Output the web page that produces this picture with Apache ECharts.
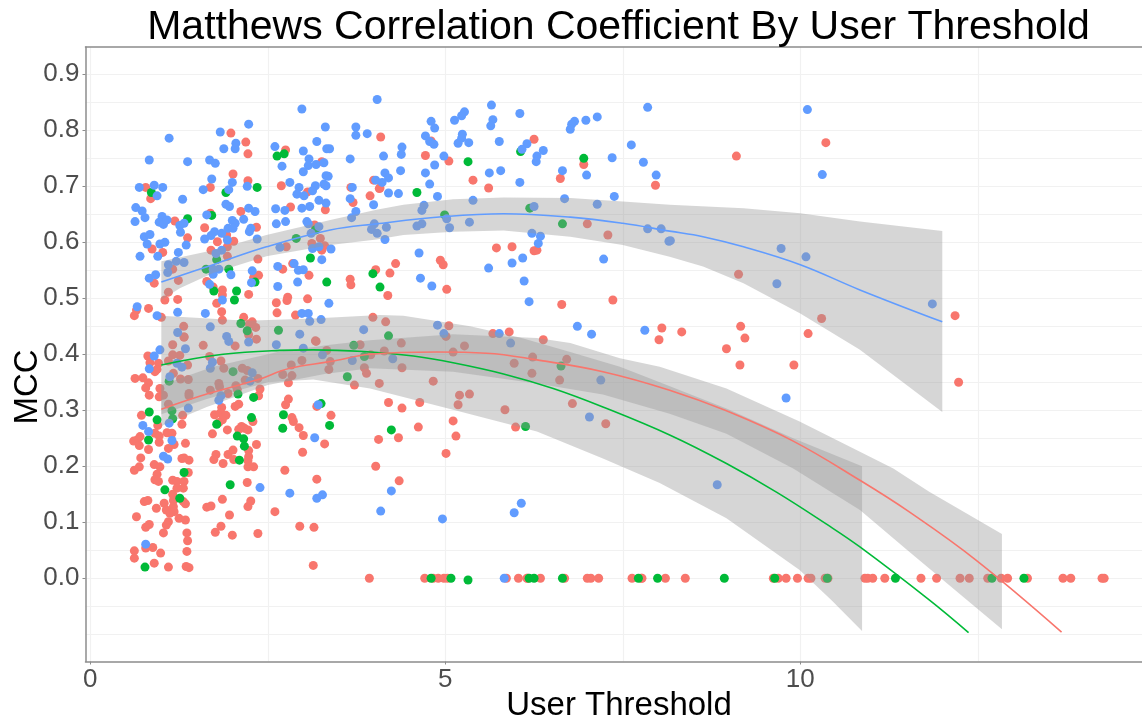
<!DOCTYPE html>
<html>
<head>
<meta charset="utf-8">
<style>
  html, body { margin: 0; padding: 0; background: #fff; }
  #chart { width: 1142px; height: 721px; }
</style>
<script src="https://cdn.jsdelivr.net/npm/echarts@6/dist/echarts.min.js"></script>
</head>
<body>
<div id="chart"></div>
<script>
const xTicks = [0, 5, 10];
const xMinor = [2.5, 7.5, 12.5];
const yTicks = [0, 0.1, 0.2, 0.3, 0.4, 0.5, 0.6, 0.7, 0.8, 0.9];
const yMinor = [-0.1, -0.05, 0.05, 0.15, 0.25, 0.35, 0.45, 0.55, 0.65, 0.75, 0.85];

const redPoints = [
  [1.98,.795],[2.19,.779],[2.22,.758],[2.75,.765],[3.26,.744],[2.01,.722],[2.22,.71],[.78,.698],[.85,.678],[1.69,.698],
  [2.69,.701],[3.06,.69],[3.99,.711],[3.67,.698],[3.94,.683],[4.07,.696],[3.7,.671],[2.82,.663],[3.31,.658],[2.12,.655],
  [1.69,.652],[1.19,.638],[1.61,.626],[2.34,.627],[1.37,.608],[.87,.588],[1.02,.582],[1.79,.601],[1.92,.613],[2.02,.602],
  [1.93,.592],[1.7,.586],[1.93,.575],[2.36,.57],[2.76,.592],[3.12,.598],[3.24,.607],[3.3,.594],[3.26,.586],[3.16,.631],
  [1.16,.552],[1.24,.532],[.9,.527],[2.85,.562],[2.71,.552],[3.08,.541],[2.3,.537],[2.37,.541],[1.64,.53],[1.73,.52],
  [1.86,.515],[1.86,.506],[1.1,.511],[1.05,.497],[1.23,.498],[1.78,.491],[2.23,.507],[2.62,.492],[2.78,.502],[2.77,.496],
  [3.06,.499],[3.66,.534],[3.67,.524],[4.02,.551],[.82,.482],[.65,.479],[.62,.469],[1.85,.476],[1.86,.461],[2.63,.474],
  [2.89,.47],[2.16,.466],[2.28,.458],[2.24,.454],[2.33,.448],[1.315,.45],[1.0,.466],[1.32,.431],[3.98,.466],[3.17,.424],
  [2.23,.435],[4.09,.788],[6.25,.784],[4.8,.781],[4.72,.755],[5.05,.745],[5.39,.711],[5.61,.697],[6.62,.714],[6.95,.739],
  [7.96,.702],[4.08,.697],[7.29,.613],[7.0,.633],[5.72,.59],[5.94,.592],[6.25,.585],[6.29,.586],[4.93,.568],[4.97,.56],
  [4.3,.562],[4.22,.545],[5.02,.516],[4.19,.505],[6.64,.489],[7.36,.497],[4.16,.458],[5.05,.451],[5.67,.437],[5.9,.44],
  [6.38,.426],[8.05,.447],[8.01,.426],[5.01,.432],[10.36,.778],[9.1,.754],[9.13,.543],[10.3,.464],[12.18,.469],[8.33,.44],
  [9.16,.45],[9.22,.429],[10.11,.437],[8.96,.41],[9.15,.381],[9.91,.381],[12.23,.35],[4.38,.42],[4.14,.406],[3.95,.399],
  [5.11,.404],[5.27,.415],[4.39,.376],[6.23,.395],[5.97,.384],[6.71,.391],[6.22,.366],[6.61,.354],[4.83,.352],[4.07,.348],
  [5.2,.327],[5.34,.329],[5.18,.31],[5.84,.301],[6.79,.312],[7.26,.276],[4.2,.314],[4.39,.304],[4.64,.314],[5.11,.281],
  [4.62,.27],[5.99,.27],[5.15,.254],[4.06,.248],[4.34,.251],[5.01,.223],[4.02,.2],[4.35,.174],
  [.81,.397],[1.16,.399],[1.26,.398],[1.1,.388],[.84,.385],[.96,.384],[.94,.373],[.91,.369],[1.17,.366],[1.16,.417],
  [1.32,.431],[1.37,.381],[1.27,.356],[1.38,.355],[1.59,.416],[1.68,.396],[1.84,.388],[1.88,.375],[2.04,.415],[2.34,.427],
  [2.14,.375],[2.21,.371],[2.36,.357],[2.18,.354],[3.18,.423],[3.33,.407],[3.38,.387],[3.36,.373],[2.98,.389],[2.83,.381],
  [2.71,.364],[2.84,.362],[2.79,.349],[3.8,.417],[3.86,.376],[3.89,.366],[3.72,.345],[.63,.357],[.74,.358],[.82,.349],
  [.78,.34],[.98,.339],[.83,.327],[.97,.324],[1.03,.327],[1.39,.33],[1.39,.326],[1.69,.336],[1.81,.348],[1.82,.342],
  [1.94,.33],[2.05,.344],[2.07,.337],[2.39,.338],[2.37,.326],[1.1,.311],[2.79,.32],[2.75,.31],[3.19,.307],[1.85,.305],
  [2.09,.311],[2.04,.307],[.72,.291],[1.3,.291],[1.75,.292],[1.83,.295],[1.91,.291],[1.86,.283],[1.81,.278],[2.29,.28],
  [2.84,.287],[2.86,.28],[3.39,.291],[.95,.273],[1.29,.275],[1.93,.265],[2.13,.271],[2.17,.268],[2.09,.266],[2.22,.265],
  [2.94,.269],[3.0,.255],[1.72,.258],[.91,.259],[.97,.254],[1.08,.26],[1.15,.259],[.7,.253],[.66,.247],[.61,.245],
  [.69,.237],[.97,.243],[1.18,.239],[1.1,.232],[1.34,.241],[2.34,.239],[3.3,.24],[.82,.23],[.71,.215],[1.29,.214],
  [1.32,.215],[1.39,.211],[1.77,.221],[1.74,.212],[1.94,.221],[2.01,.229],[2.02,.212],[2.23,.228],[2.23,.217],[2.22,.21],
  [2.99,.225],[1.87,.205],[.9,.203],[.98,.199],[.69,.199],[.62,.193],[2.22,.199],[2.3,.199],[2.74,.193],[1.38,.189],
  [.94,.186],[.91,.176],[.96,.173],[3.19,.177],[1.16,.175],[1.22,.173],[1.32,.173],[1.22,.161],[1.31,.161],[1.16,.15],
  [2.21,.171],[1.86,.141],[1.31,.137],[1.34,.133],[1.17,.139],[.76,.137],[.81,.139],[1.04,.134],[1.17,.128],[.93,.125],
  [1.07,.122],[1.12,.116],[1.18,.119],[2.22,.128],[2.26,.138],[1.64,.127],[1.7,.129],[2.6,.119],[1.96,.113],[.65,.11],
  [1.25,.107],[1.34,.104],[1.1,.101],[1.07,.095],[.83,.096],[.78,.091],[1.84,.093],[2.95,.093],[3.15,.091],[1.03,.081],
  [1.36,.081],[1.76,.082],[2.0,.077],[2.36,.08],[1.37,.067],[.78,.054],[.88,.055],[.62,.049],[.99,.045],[1.36,.048],
  [.62,.036],[.9,.027],[1.1,.02],[1.35,.021],[1.39,.019],[3.14,.023],
  [3.93,0],[4.71,0],[4.83,0],[4.9,0],[4.98,0],[5.03,0],[5.86,0],[6.03,0],[6.15,0],[6.16,0],[6.34,0],[6.68,0],[7.0,0],
  [7.05,0],[7.16,0],[7.63,0],[7.76,0],[7.77,0],[8.1,0],[8.38,0],[9.62,0],[9.69,0],[9.8,0],[9.96,0],[10.11,0],[10.15,0],
  [10.35,0],[10.39,0],[10.91,0],[10.95,0],[11.02,0],[11.19,0],[11.7,0],[11.92,0],[12.25,0],[12.38,0],[12.64,0],[12.83,0],
  [12.92,0],[13.2,0],[13.7,0],[13.81,0],[14.25,0],[14.28,0]
];

const greenPoints = [
  [2.63,.754],[2.73,.758],[.86,.689],[2.35,.698],[1.91,.689],[1.37,.642],[1.71,.648],[2.9,.607],[3.17,.622],[1.78,.569],
  [3.1,.572],[1.63,.552],[1.95,.552],[3.98,.544],[2.32,.529],[3.33,.529],[2.06,.513],[1.74,.513],[2.03,.497],[4.08,.52],
  [2.12,.455],[2.21,.442],[2.65,.443],[6.06,.762],[6.95,.75],[5.32,.744],[4.6,.689],[6.19,.661],[4.99,.649],[6.65,.633],
  [4.2,.433],[6.63,.379],[6.13,.271],[4.24,.265],[2.01,.369],[1.11,.352],[3.71,.416],[3.86,.396],[3.62,.36],[2.08,.329],
  [2.3,.323],[1.15,.299],[.83,.297],[.94,.283],[1.16,.285],[2.27,.287],[1.78,.275],[2.72,.292],[2.71,.268],[3.37,.273],
  [3.25,.312],[.82,.247],[2.07,.254],[2.16,.249],[2.17,.236],[2.1,.211],[1.32,.189],[1.97,.167],[1.05,.158],[1.26,.143],
  [.77,.02],
  [4.8,0],[5.08,0],[5.32,-.003],[6.18,0],[6.25,0],[6.65,0],[7.72,0],[7.99,0],[8.93,0],[9.64,0],[10.38,0],[11.34,0],
  [12.7,0],[13.15,0]
];

const bluePoints = [
  [4.04,.855],[2.98,.838],[2.23,.811],[3.31,.806],[3.74,.806],[3.9,.794],[3.74,.791],[1.83,.797],[1.11,.786],[3.19,.78],
  [2.05,.777],[2.04,.767],[1.88,.767],[2.6,.771],[3.0,.763],[3.33,.767],[3.37,.767],[.83,.747],[1.37,.744],[1.68,.747],
  [1.76,.741],[3.66,.749],[2.7,.736],[3.08,.749],[3.07,.737],[3.18,.739],[3.29,.742],[3.0,.726],[3.32,.719],[3.35,.718],
  [1.71,.713],[2.0,.707],[2.81,.707],[.69,.698],[.9,.702],[1.02,.698],[1.59,.694],[1.95,.694],[2.21,.7],[3.69,.698],
  [2.94,.698],[3.29,.704],[3.32,.701],[3.17,.701],[3.13,.692],[2.91,.686],[3.01,.683],[.94,.683],[1.3,.677],[3.66,.678],
  [3.99,.667],[3.22,.675],[3.32,.67],[2.98,.661],[3.09,.664],[2.61,.66],[2.74,.657],[.64,.662],[.73,.656],[.77,.644],
  [1.91,.668],[1.96,.664],[2.23,.661],[2.32,.655],[1.64,.649],[3.74,.655],[.63,.637],[1.01,.646],[.97,.636],[1.03,.632],
  [1.08,.64],[1.26,.63],[1.32,.634],[1.27,.618],[2.0,.639],[2.04,.634],[2.16,.641],[2.62,.633],[2.75,.637],[3.05,.637],
  [1.94,.625],[2.01,.625],[1.75,.619],[1.7,.612],[1.85,.616],[1.61,.606],[1.93,.604],[2.26,.625],[2.24,.619],[2.35,.606],
  [.76,.61],[.84,.614],[.8,.597],[.98,.597],[1.05,.6],[1.35,.595],[1.24,.582],[.7,.575],[.95,.575],[1.85,.586],
  [1.77,.58],[3.13,.589],[3.22,.592],[3.39,.588],[2.67,.591],[3.11,.616],[3.22,.628],[3.07,.633],[3.68,.644],[3.26,.569],
  [2.64,.557],[2.87,.562],[2.93,.55],[3.0,.551],[1.1,.56],[1.21,.566],[1.32,.564],[1.09,.546],[1.73,.552],[1.81,.552],
  [1.73,.543],[1.98,.542],[2.28,.549],[.83,.536],[.92,.542],[2.92,.529],[2.27,.528],[1.68,.525],[2.64,.521],[1.86,.497],
  [3.36,.491],[.66,.485],[1.23,.475],[1.62,.473],[.94,.469],[2.98,.473],[3.07,.473],[3.09,.459],[3.25,.462],[1.69,.449],
  [1.23,.439],[3.85,.444],[2.95,.436],[1.92,.432],
  [5.65,.845],[5.27,.833],[5.23,.826],[5.13,.818],[4.8,.816],[4.85,.804],[5.67,.819],[5.64,.808],[6.05,.83],[7.85,.841],
  [7.14,.824],[6.98,.818],[6.82,.816],[6.78,.811],[6.76,.802],[5.24,.793],[5.23,.786],[5.18,.777],[5.33,.778],[5.76,.78],
  [4.72,.79],[4.78,.78],[4.84,.775],[7.62,.774],[6.15,.776],[6.08,.766],[6.38,.764],[4.39,.77],[4.38,.757],[4.13,.754],
  [4.98,.754],[4.85,.738],[6.29,.754],[6.28,.744],[7.35,.751],[7.79,.743],[7.97,.72],[6.65,.728],[6.99,.72],[5.62,.724],
  [5.78,.728],[4.37,.728],[4.72,.724],[4.15,.724],[4.2,.715],[4.11,.707],[4.02,.711],[4.78,.704],[6.05,.707],[4.2,.688],
  [4.34,.687],[4.89,.682],[7.38,.682],[6.68,.678],[5.39,.675],[4.7,.666],[4.67,.657],[6.25,.664],[7.14,.668],[5.02,.642],
  [5.34,.636],[5.06,.626],[4.67,.633],[4.6,.629],[4,.633],[3.96,.623],[4.04,.616],[4.17,.627],[4.15,.605],[7.85,.624],
  [8.04,.624],[8.15,.602],[6.22,.616],[6.34,.611],[6.31,.598],[4.63,.581],[7.23,.57],[6.09,.572],[5.94,.563],[5.61,.554],
  [4.65,.536],[4.81,.522],[6.11,.531],[6.18,.494],[4.89,.452],[4.98,.437],[5.76,.437],[6.86,.45],[7.06,.436],[7.81,.443],
  [10.1,.837],[10.31,.721],[8.17,.603],[9.73,.589],[10.08,.574],[9.67,.526],[11.86,.49],[9.8,.322],[8.83,.167],
  [4.26,.392],[5.92,.42],[7.19,.354],[7.03,.288],[4.24,.156],[4.09,.12],[4.96,.106],[6.07,.134],[5.97,.117],[5.83,0],
  [.9,.397],[.98,.408],[.83,.374],[1.12,.36],[1.34,.41],[1.22,.384],[1.29,.377],[1.72,.386],[1.69,.375],[1.95,.423],
  [2.23,.422],[2.28,.367],[2.25,.352],[2.62,.417],[3.0,.411],[3.27,.399],[3.69,.389],[1.84,.326],[1.81,.318],[1.38,.304],
  [1.11,.277],[.74,.273],[.82,.262],[1.15,.246],[1.03,.218],[1.09,.213],[3.16,.251],[3.21,.31],[2.39,.162],[2.81,.152],
  [3.19,.143],[3.27,.149],[.78,.061]
];

// smooth lines
const blueLine = [[1,.529],[1.73,.56],[2.48,.592],[3.38,.622],[4.03,.633],[5,.646],[5.82,.651],[6.76,.645],[7.5,.634],[8.16,.62],[8.63,.61],[9.2,.592],[10,.56],[10.84,.515],[12,.458]];
const greenLine = [[1,.381],[1.87,.4],[2.67,.407],[3.14,.408],[3.85,.405],[4.55,.397],[5.11,.385],[5.82,.365],[6.52,.339],[7.22,.306],[8.16,.256],[8.96,.205],[9.67,.1535],[10.37,.0966],[10.84,.056],[11.82,-.039],[12.37,-.097]];
const redLine = [[1,.302],[1.64,.329],[2.34,.354],[2.81,.375],[3.38,.387],[3.94,.4],[4.88,.404],[5.58,.402],[6.29,.39],[7.22,.369],[8.16,.336],[8.96,.299],[9.9,.245],[10.84,.175],[11.53,.119],[12.47,.033],[13.68,-.096]];

// confidence ribbons
const blueUpper = [[1,.566],[1.73,.586],[2.48,.613],[3.38,.64],[4.03,.658],[4.41,.667],[5.11,.677],[5.82,.68],[6.76,.679],[7.5,.673],[8.16,.667],[9.2,.661],[10,.652],[10.84,.637],[12,.62]];
const blueLower = [[1,.497],[1.26,.518],[1.73,.545],[2.48,.575],[3.38,.595],[4.03,.605],[4.41,.613],[5.11,.619],[5.82,.621],[6.76,.61],[7.5,.595],[8.16,.574],[8.63,.557],[9.2,.527],[10,.473],[10.84,.408],[12,.297]];
const greenUpper = [[1,.469],[2.2,.46],[3.14,.464],[4.08,.47],[4.41,.469],[5.35,.45],[6.05,.43],[6.76,.404],[7.46,.378],[8.02,.35],[8.96,.303],[9.9,.25],[10.87,.2]];
const greenLower = [[1,.293],[1.64,.32],[2.5,.35],[3.14,.355],[3.94,.339],[5.11,.301],[6.29,.262],[7.22,.214],[8.02,.17],[8.96,.107],[9.99,.015],[10.44,-.039],[10.87,-.094]];
const redUpper = [[1,.345],[1.73,.378],[2.67,.405],[3.38,.417],[3.94,.425],[5.11,.436],[6.29,.429],[6.76,.42],[7.46,.393],[8.02,.378],[8.96,.339],[9.99,.28],[10.84,.226],[11.31,.196],[11.81,.155],[12.84,.079]];
const redLower = [[1,.272],[1.64,.306],[2.5,.345],[3.3,.365],[3.94,.375],[5.11,.369],[6.29,.348],[7.22,.328],[8.16,.294],[8.96,.258],[9.9,.196],[10.84,.122],[11.53,.048],[12.84,-.091]];

const RED = '#F8766D', GREEN = '#00BA38', BLUE = '#619CFF';
const GRID = '#f1f1f1', AXIS = '#8c8c8c', TICK_TEXT = '#4d4d4d';
const FONT = '"Liberation Sans", Arial, sans-serif';

const ribbon = (upper, lower) => ({
  type: 'custom',
  silent: true,
  z: 3,
  data: [0],
  renderItem: (params, api) => ({
    type: 'polygon',
    shape: { points: upper.concat(lower.slice().reverse()).map((p) => api.coord(p)) },
    style: { fill: 'rgba(153,153,153,0.4)' },
  }),
});

const scatter = (data, color) => ({
  type: 'scatter',
  data,
  symbolSize: 9,
  itemStyle: { color, opacity: 1 },
  silent: true,
  z: 2,
});

const smooth = (data, color) => ({
  type: 'line',
  data,
  smooth: 0.4,
  showSymbol: false,
  lineStyle: { color, width: 1.6 },
  silent: true,
  z: 4,
});

const chart = echarts.init(document.getElementById('chart'));

chart.setOption({
  animation: false,
  backgroundColor: '#fff',
  title: {
    text: 'Matthews Correlation Coefficient By User Threshold',
    left: 613.5,
    top: 2,
    textAlign: 'center',
    textStyle: { fontFamily: FONT, fontSize: 41, fontWeight: 'normal', color: '#000' },
  },
  grid: {
    left: 85.5,
    top: 47,
    right: 0,
    height: 614.5,
  },
  xAxis: [
    {
      type: 'value',
      min: -0.068,
      max: 14.813,
      axisLine: { show: true, onZero: false, lineStyle: { color: AXIS, width: 1.5 } },
      axisTick: { show: true, length: 3, customValues: xTicks, lineStyle: { color: AXIS } },
      axisLabel: {
        customValues: xTicks,
        fontFamily: FONT,
        fontSize: 26,
        color: TICK_TEXT,
        margin: 5,
      },
      splitLine: { show: true, lineStyle: { color: GRID, width: 1.2 } },
    },
    {
      type: 'value',
      position: 'top',
      min: -0.068,
      max: 14.813,
      axisLine: { show: true, onZero: false, lineStyle: { color: AXIS, width: 1.5 } },
      axisTick: { show: false, customValues: xMinor },
      axisLabel: { show: false, customValues: xMinor },
      splitLine: { show: true, lineStyle: { color: GRID, width: 1.2 } },
    },
  ],
  yAxis: [
    {
      type: 'value',
      min: -0.1486,
      max: 0.9488,
      axisLine: { show: true, onZero: false, lineStyle: { color: AXIS, width: 1.5 } },
      axisTick: { show: true, length: 3, customValues: yTicks, lineStyle: { color: AXIS } },
      axisLabel: {
        customValues: yTicks,
        formatter: (v) => v.toFixed(1),
        fontFamily: FONT,
        fontSize: 26,
        color: TICK_TEXT,
        margin: 6,
      },
      splitLine: { show: true, lineStyle: { color: GRID, width: 1.2 } },
    },
    {
      type: 'value',
      position: 'left',
      min: -0.1486,
      max: 0.9488,
      axisLine: { show: false },
      axisTick: { show: false, customValues: yMinor },
      axisLabel: { show: false, customValues: yMinor },
      splitLine: { show: true, lineStyle: { color: GRID, width: 1.2 } },
    },
  ],
  graphic: [
    {
      type: 'text',
      x: 619,
      y: 706,
      style: { text: 'User Threshold', font: '33px ' + FONT, fill: '#000', textAlign: 'center', textVerticalAlign: 'middle' },
    },
    {
      type: 'text',
      x: 28,
      y: 387,
      rotation: Math.PI / 2,
      style: { text: 'MCC', font: '33px ' + FONT, fill: '#000', textAlign: 'center', textVerticalAlign: 'middle' },
    },
  ],
  series: [
    scatter(redPoints, RED),
    scatter(greenPoints, GREEN),
    scatter(bluePoints, BLUE),
    ribbon(blueUpper, blueLower),
    ribbon(greenUpper, greenLower),
    ribbon(redUpper, redLower),
    smooth(blueLine, BLUE),
    smooth(greenLine, GREEN),
    smooth(redLine, RED),
  ],
});
</script>
</body>
</html>
